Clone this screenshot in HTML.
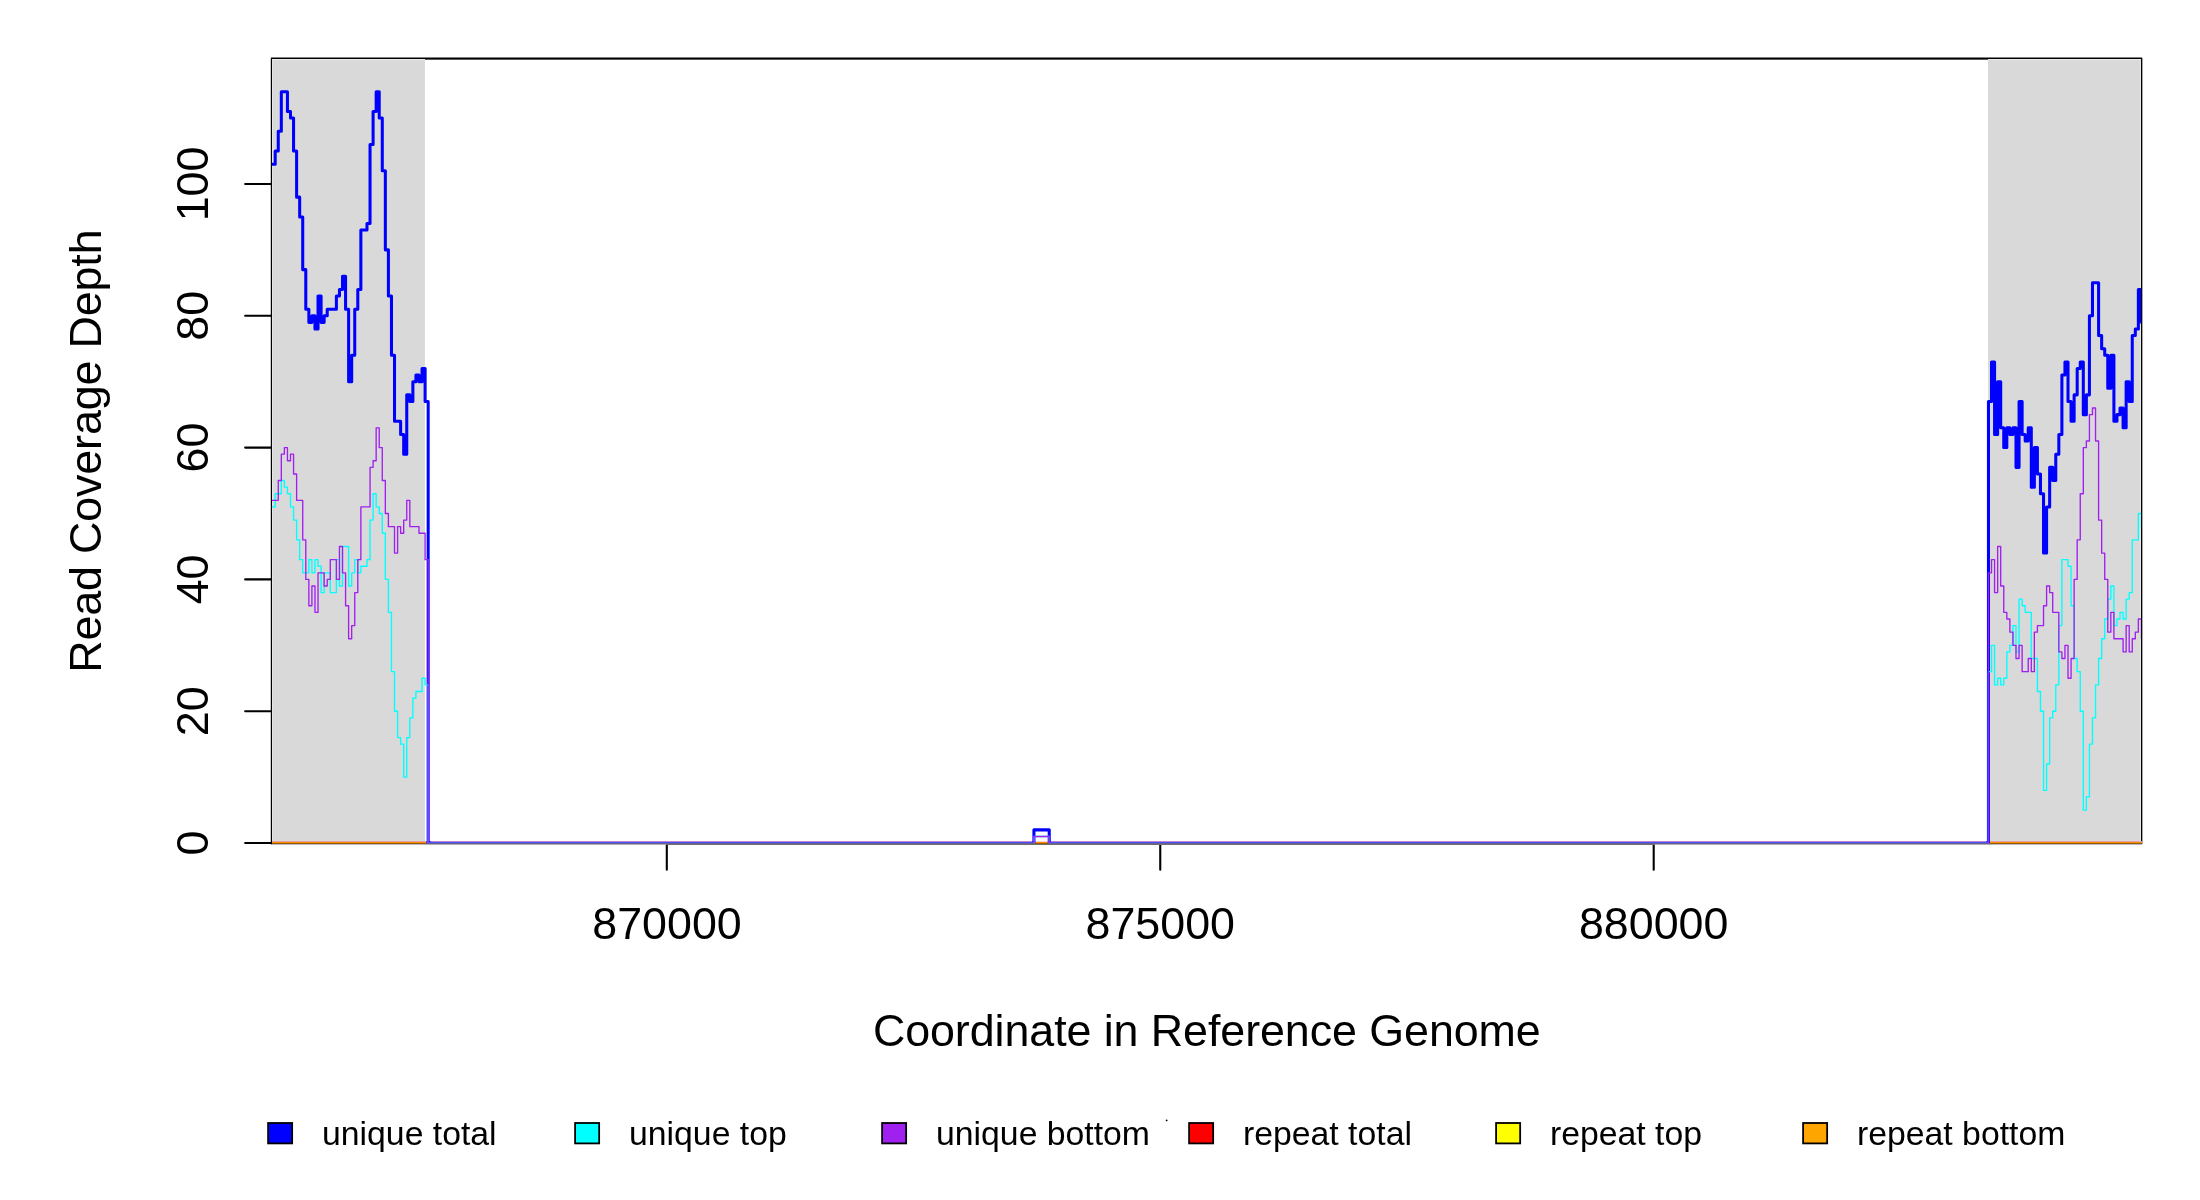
<!DOCTYPE html>
<html><head><meta charset="utf-8"><title>Read coverage</title>
<style>
html,body{margin:0;padding:0;background:#fff;}
body{width:2200px;height:1200px;overflow:hidden;font-family:"Liberation Sans",sans-serif;}
svg{display:block;position:absolute;left:0;top:0;will-change:transform;}
text{font-family:"Liberation Sans",sans-serif;fill:#000;}
.ax{font-size:44.8px;}
.lg{font-size:33.75px;}
</style></head><body>
<svg width="2200" height="1200" viewBox="0 0 2200 1200">
<defs><clipPath id="pc"><rect x="271.9" y="58.7" width="1869.15" height="784.3"/></clipPath></defs>
<rect x="0" y="0" width="2200" height="1200" fill="#ffffff"/>
<rect x="271.5" y="58.25" width="1870.15" height="785.45" fill="none" stroke="#000" stroke-width="1.4" stroke-linejoin="round"/>
<rect x="425" y="58.6" width="1563.1" height="1.05" fill="#000"/>
<g stroke="#000" stroke-width="2.1" stroke-linecap="round" fill="none">
<path d="M245.15 843.05H271.5"/>
<path d="M245.15 711.23H271.5"/>
<path d="M245.15 579.41H271.5"/>
<path d="M245.15 447.59H271.5"/>
<path d="M245.15 315.77H271.5"/>
<path d="M245.15 183.95H271.5"/>
<path d="M666.8 844V869.8"/>
<path d="M1160.25 844V869.8"/>
<path d="M1653.7 844V869.8"/>
</g>
<rect x="272.1" y="59.05" width="152.9" height="785" fill="#e8e8e8"/>
<rect x="273.0" y="60.0" width="151.8" height="785" fill="#d9d9d9"/>
<rect x="1988.1" y="59.05" width="152.9" height="785" fill="#e8e8e8"/>
<rect x="1988.1" y="60.0" width="151.8" height="785" fill="#d9d9d9"/>
<g shape-rendering="crispEdges">
<rect x="272" y="841" width="154.40" height="1" fill="#e0a0a8"/>
<rect x="272" y="842" width="154.40" height="1" fill="#ff8c00"/>
<rect x="272" y="843" width="154.40" height="1" fill="#9a5c00"/>
<rect x="272" y="844" width="154.40" height="1" fill="#b8bac0"/>
<rect x="1986" y="841" width="156.20" height="1" fill="#e0a0a8"/>
<rect x="1986" y="842" width="156.20" height="1" fill="#ff8c00"/>
<rect x="1986" y="843" width="156.20" height="1" fill="#9a5c00"/>
<rect x="1986" y="844" width="156.20" height="1" fill="#b8bac0"/>
<rect x="426.4" y="841" width="239.40" height="1" fill="#be86cc"/>
<rect x="426.4" y="842" width="239.40" height="1" fill="#4c4cfa"/>
<rect x="426.4" y="843" width="239.40" height="1" fill="#695f96"/>
<rect x="426.4" y="844" width="239.40" height="1" fill="#b0b0aa"/>
<rect x="665.8" y="841" width="988.90" height="1" fill="#be86cc"/>
<rect x="665.8" y="842" width="988.90" height="1" fill="#4c4cfa"/>
<rect x="665.8" y="843" width="988.90" height="1" fill="#695f96"/>
<rect x="665.8" y="844" width="988.90" height="1" fill="#6e6e6c"/>
<rect x="1654.7" y="841" width="335.30" height="1" fill="#be86cc"/>
<rect x="1654.7" y="842" width="335.30" height="1" fill="#4c4cfa"/>
<rect x="1654.7" y="843" width="335.30" height="1" fill="#695f96"/>
<rect x="1654.7" y="844" width="335.30" height="1" fill="#b0b0aa"/>
<rect x="1035.2" y="841" width="12.60" height="1" fill="#ffd0d0"/>
<rect x="1035.2" y="842" width="12.60" height="1" fill="#ff8c00"/>
<rect x="1035.2" y="843" width="12.60" height="1" fill="#9a5c00"/>
<rect x="1035.2" y="844" width="12.60" height="1" fill="#6e6e6c"/>
</g>
<g clip-path="url(#pc)" fill="none" stroke-linejoin="round" stroke-linecap="round">
<path d="M269.50 164.18H275.20V150.99H278.26V131.22H281.32V91.68H287.44V111.45H290.50V118.04H293.56V150.99H296.62V197.13H299.67V216.90H302.73V269.63H305.79V309.18H308.85V322.36H311.91V315.77H314.97V328.95H318.03V296.00H321.09V322.36H324.15V315.77H327.21V309.18H336.39V296.00H339.45V289.41H342.51V276.22H345.57V309.18H348.62V381.68H351.68V355.32H354.74V309.18H357.80V289.41H360.86V230.09H366.98V223.50H370.04V144.40H373.10V111.45H376.16V91.68H379.22V118.04H382.28V170.77H385.34V249.86H388.40V296.00H391.46V355.32H394.52V421.23H400.63V434.41H403.69V454.18H406.75V394.86H409.81V401.45H412.87V381.68H415.93V375.09H418.99V381.68H422.05V368.50H425.11V401.45H428.17V843.05H1033.93V829.87H1049.23V843.05H1988.46V401.45H1991.52V361.91H1994.58V434.41H1997.64V381.68H2000.70V427.82H2003.76V447.59H2006.82V427.82H2009.88V434.41H2012.94V427.82H2016.00V467.36H2019.06V401.45H2022.12V434.41H2025.18V441.00H2028.24V427.82H2031.30V487.14H2034.35V447.59H2037.41V473.95H2040.47V493.73H2043.53V553.05H2046.59V506.91H2049.65V467.36H2052.71V480.54H2055.77V454.18H2058.83V434.41H2061.89V375.09H2064.95V361.91H2068.01V401.45H2071.07V421.23H2074.13V394.86H2077.19V368.50H2080.25V361.91H2083.30V414.63H2086.36V394.86H2089.42V315.77H2092.48V282.81H2098.60V335.54H2101.66V348.72H2104.72V355.32H2107.78V388.27H2110.84V355.32H2113.90V421.23H2116.96V414.63H2120.02V408.04H2123.08V427.82H2126.14V381.68H2129.20V401.45H2132.26V335.54H2135.31V328.95H2138.37V289.41H2141.43V322.36H2145.00" stroke="#0000ff" stroke-width="3.05"/>
<path d="M269.50 506.91H275.20V493.73H281.32V480.54H284.38V487.14H287.44V493.73H290.50V506.91H293.56V520.09H296.62V539.86H299.67V559.64H302.73V572.82H308.85V559.64H311.91V572.82H314.97V559.64H318.03V566.23H321.09V592.59H324.15V572.82H330.27V592.59H336.39V559.64H339.45V586.00H342.51V546.45H348.62V586.00H351.68V572.82H354.74V559.64H357.80V572.82H360.86V566.23H366.98V559.64H370.04V520.09H373.10V493.73H376.16V506.91H379.22V513.50H382.28V533.27H385.34V579.41H388.40V612.37H391.46V671.68H394.52V711.23H397.58V737.59H400.63V744.18H403.69V777.14H406.75V737.59H409.81V717.82H412.87V698.05H415.93V691.46H422.05V678.27H425.11V684.87H428.17V843.05H1033.93V836.46H1049.23V843.05H1988.46V671.68H1991.52V645.32H1994.58V684.87H1997.64V678.27H2000.70V684.87H2003.76V678.27H2006.82V651.91H2009.88V645.32H2012.94V625.55H2016.00V651.91H2019.06V599.18H2022.12V605.77H2025.18V612.37H2031.30V658.50H2037.41V691.46H2040.47V711.23H2043.53V790.32H2046.59V763.96H2049.65V717.82H2052.71V711.23H2055.77V684.87H2058.83V625.55H2061.89V559.64H2068.01V566.23H2071.07V605.77H2074.13V658.50H2077.19V671.68H2080.25V711.23H2083.30V810.09H2086.36V796.91H2089.42V744.18H2092.48V717.82H2095.54V684.87H2098.60V658.50H2101.66V638.73H2104.72V618.96H2107.78V599.18H2110.84V586.00H2113.90V625.55H2116.96V618.96H2120.02V612.37H2123.08V618.96H2126.14V599.18H2129.20V592.59H2132.26V539.86H2138.37V513.50H2141.43V526.68H2145.00" stroke="#00ffff" stroke-width="1.35"/>
<path d="M269.50 500.32H278.26V480.54H281.32V454.18H284.38V447.59H287.44V460.77H290.50V454.18H293.56V473.95H296.62V500.32H302.73V539.86H305.79V579.41H308.85V605.77H311.91V586.00H314.97V612.37H318.03V572.82H324.15V586.00H327.21V579.41H330.27V559.64H336.39V579.41H339.45V546.45H342.51V572.82H345.57V605.77H348.62V638.73H351.68V625.55H354.74V592.59H357.80V559.64H360.86V506.91H370.04V467.36H373.10V460.77H376.16V427.82H379.22V447.59H382.28V480.54H385.34V513.50H388.40V526.68H394.52V553.05H397.58V526.68H400.63V533.27H403.69V520.09H406.75V500.32H409.81V526.68H418.99V533.27H425.11V559.64H428.17V843.05H1033.93V836.46H1049.23V843.05H1988.46V572.82H1991.52V559.64H1994.58V592.59H1997.64V546.45H2000.70V586.00H2003.76V612.37H2006.82V618.96H2009.88V632.14H2012.94V645.32H2016.00V658.50H2019.06V645.32H2022.12V671.68H2028.24V658.50H2031.30V671.68H2034.35V632.14H2037.41V625.55H2043.53V605.77H2046.59V586.00H2049.65V592.59H2052.71V612.37H2058.83V651.91H2061.89V658.50H2064.95V645.32H2068.01V678.27H2071.07V658.50H2074.13V579.41H2077.19V539.86H2080.25V493.73H2083.30V447.59H2086.36V441.00H2089.42V414.63H2092.48V408.04H2095.54V441.00H2098.60V520.09H2101.66V553.05H2104.72V579.41H2107.78V632.14H2110.84V612.37H2113.90V638.73H2123.08V651.91H2126.14V625.55H2129.20V651.91H2132.26V638.73H2135.31V632.14H2138.37V618.96H2141.43V638.73H2145.00" stroke="#a020f0" stroke-width="1.35"/>
</g>
<g shape-rendering="crispEdges">
<rect x="430.5" y="841" width="235.30" height="1" fill="#be86cc"/>
<rect x="430.5" y="842" width="235.30" height="1" fill="#4c4cfa"/>
<rect x="430.5" y="843" width="235.30" height="1" fill="#695f96"/>
<rect x="430.5" y="844" width="235.30" height="1" fill="#b0b0aa"/>
<rect x="665.8" y="841" width="365.80" height="1" fill="#be86cc"/>
<rect x="665.8" y="842" width="365.80" height="1" fill="#4c4cfa"/>
<rect x="665.8" y="843" width="365.80" height="1" fill="#695f96"/>
<rect x="665.8" y="844" width="365.80" height="1" fill="#6e6e6c"/>
<rect x="1051.2" y="841" width="603.50" height="1" fill="#be86cc"/>
<rect x="1051.2" y="842" width="603.50" height="1" fill="#4c4cfa"/>
<rect x="1051.2" y="843" width="603.50" height="1" fill="#695f96"/>
<rect x="1051.2" y="844" width="603.50" height="1" fill="#6e6e6c"/>
<rect x="1654.7" y="841" width="331.50" height="1" fill="#be86cc"/>
<rect x="1654.7" y="842" width="331.50" height="1" fill="#4c4cfa"/>
<rect x="1654.7" y="843" width="331.50" height="1" fill="#695f96"/>
<rect x="1654.7" y="844" width="331.50" height="1" fill="#b0b0aa"/>
</g>
<text class="ax" text-anchor="middle" transform="translate(207.5 843.05) rotate(-90)">0</text>
<text class="ax" text-anchor="middle" transform="translate(207.5 711.23) rotate(-90)">20</text>
<text class="ax" text-anchor="middle" transform="translate(207.5 579.41) rotate(-90)">40</text>
<text class="ax" text-anchor="middle" transform="translate(207.5 447.59) rotate(-90)">60</text>
<text class="ax" text-anchor="middle" transform="translate(207.5 315.77) rotate(-90)">80</text>
<text class="ax" text-anchor="middle" transform="translate(207.5 183.95) rotate(-90)">100</text>
<text class="ax" text-anchor="middle" x="667" y="938.8">870000</text>
<text class="ax" text-anchor="middle" x="1160.3" y="938.8">875000</text>
<text class="ax" text-anchor="middle" x="1653.7" y="938.8">880000</text>
<text class="ax" text-anchor="middle" letter-spacing="-0.07" x="1206.8" y="1045.6">Coordinate in Reference Genome</text>
<text class="ax" text-anchor="middle" letter-spacing="-0.13" transform="translate(100.5 451.2) rotate(-90)">Read Coverage Depth</text>
<rect x="268.10" y="1123.0" width="24.05" height="20.4" fill="#0000ff" stroke="#000" stroke-width="1.8"/>
<text class="lg" x="322.05" y="1144.8">unique total</text>
<rect x="575.10" y="1123.0" width="24.05" height="20.4" fill="#00ffff" stroke="#000" stroke-width="1.8"/>
<text class="lg" x="629.05" y="1144.8">unique top</text>
<rect x="882.10" y="1123.0" width="24.05" height="20.4" fill="#a020f0" stroke="#000" stroke-width="1.8"/>
<text class="lg" x="936.05" y="1144.8">unique bottom</text>
<rect x="1189.10" y="1123.0" width="24.05" height="20.4" fill="#ff0000" stroke="#000" stroke-width="1.8"/>
<text class="lg" x="1243.05" y="1144.8">repeat total</text>
<rect x="1496.10" y="1123.0" width="24.05" height="20.4" fill="#ffff00" stroke="#000" stroke-width="1.8"/>
<text class="lg" x="1550.05" y="1144.8">repeat top</text>
<rect x="1803.10" y="1123.0" width="24.05" height="20.4" fill="#ffa500" stroke="#000" stroke-width="1.8"/>
<text class="lg" x="1857.05" y="1144.8">repeat bottom</text>
<circle cx="1166.65" cy="1120.4" r="0.9" fill="#000"/>
</svg></body></html>
